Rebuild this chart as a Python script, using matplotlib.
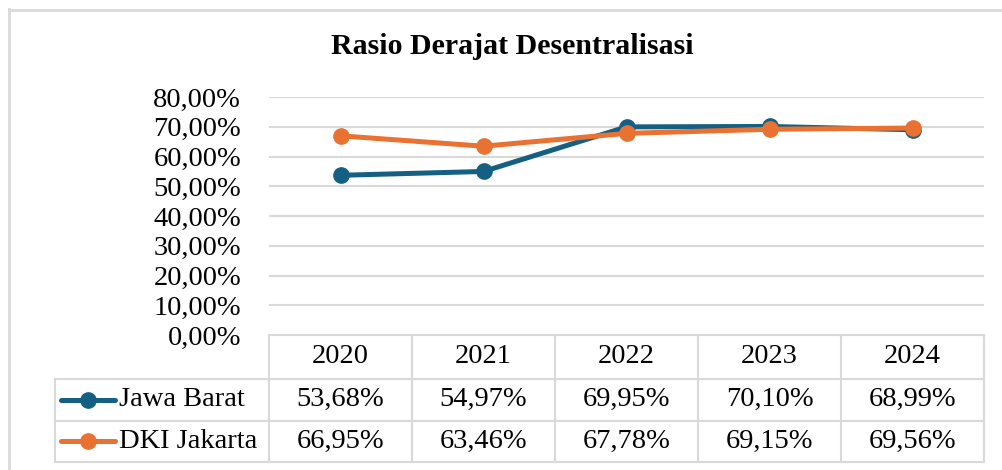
import numpy as np
import matplotlib.pyplot as plt
from matplotlib.lines import Line2D

plt.rcParams['font.family'] = ['Liberation Serif', 'DejaVu Serif']

# data
years = ['2020', '2021', '2022', '2023', '2024']
jawa_barat = [53.68, 54.97, 69.95, 70.10, 68.99]
dki_jakarta = [66.95, 63.46, 67.78, 69.15, 69.56]
series_names = ['Jawa Barat', 'DKI Jakarta']
colors = ['#156082', '#E97132']
yticks = [0, 10, 20, 30, 40, 50, 60, 70, 80]

W, H = 1003, 470
fig = plt.figure(figsize=(W / 100, H / 100), dpi=100)

def fx(px):
    return px / W

def fy(py):
    return 1 - py / H

fs = 20.5

# main plot area (pixels)
left, right, top, bottom = 269, 984, 97, 335
ax = fig.add_axes([fx(left), fy(bottom), fx(right - left), (bottom - top) / H])
x = np.arange(len(years))
for vals, c in zip([jawa_barat, dki_jakarta], colors):
    ax.plot(x, np.array(vals) / 100, color=c, lw=3.6, marker='o', ms=11,
            solid_capstyle='round', zorder=3)
ax.set_xlim(-0.5, len(years) - 0.5)
ax.set_ylim(0, 0.8)
ax.set_yticks([v / 100 for v in yticks])
ax.set_yticklabels([f'{v:.2f}'.replace('.', ',') + '%' for v in yticks], fontsize=fs)
ax.set_xticks([])
ax.tick_params(axis='y', length=0, pad=20)
for s in ax.spines.values():
    s.set_visible(False)
ax.grid(axis='y', color='#D9D9D9', lw=1.5)
ax.set_axisbelow(True)

fig.text(fx(512), fy(47), 'Rasio Derajat Desentralisasi', ha='center', va='center',
         fontsize=21.5, fontweight='bold')

# outer border (top and left visible)
gray = '#D9D9D9'
fig.add_artist(Line2D([fx(9), 1], [fy(9.5), fy(9.5)], color=gray, lw=2))
fig.add_artist(Line2D([fx(9.5), fx(9.5)], [fy(9), 0], color=gray, lw=2))

# data table
col_edges = np.linspace(left, right, len(years) + 1)
row_lines = [335, 378.5, 420.5, 462]
leg_left = 55
tl = dict(color=gray, lw=1.5)
# horizontal lines
fig.add_artist(Line2D([fx(left), fx(right)], [fy(row_lines[0])] * 2, **tl))
for ry in row_lines[1:]:
    fig.add_artist(Line2D([fx(leg_left), fx(right)], [fy(ry)] * 2, **tl))
# vertical lines
for cx in col_edges:
    fig.add_artist(Line2D([fx(cx)] * 2, [fy(row_lines[0]), fy(row_lines[-1])], **tl))
fig.add_artist(Line2D([fx(leg_left)] * 2, [fy(row_lines[1]), fy(row_lines[-1])], **tl))

centers = (col_edges[:-1] + col_edges[1:]) / 2
for cx, yr in zip(centers, years):
    fig.text(fx(cx), fy((row_lines[0] + row_lines[1]) / 2), yr,
             ha='center', va='center', fontsize=fs)
for i, (name, vals, c) in enumerate(zip(series_names, [jawa_barat, dki_jakarta], colors)):
    cy = (row_lines[i + 1] + row_lines[i + 2]) / 2
    fig.add_artist(Line2D([fx(61), fx(115)], [fy(cy)] * 2, color=c, lw=3.6,
                          solid_capstyle='round'))
    fig.add_artist(Line2D([fx(88)], [fy(cy)], color=c, marker='o', ms=11))
    fig.text(fx(119), fy(cy), name, ha='left', va='center', fontsize=fs)
    for cx, v in zip(centers, vals):
        fig.text(fx(cx), fy(cy), f'{v:.2f}'.replace('.', ',') + '%',
                 ha='center', va='center', fontsize=fs)

fig.savefig('out.png', dpi=100)
